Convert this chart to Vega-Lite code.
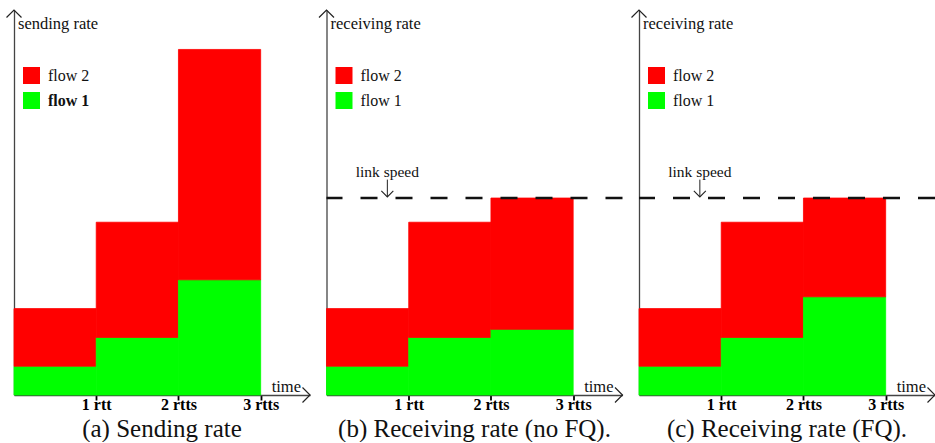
{
  "$schema": "https://vega.github.io/schema/vega-lite/v6.json",
  "padding": {"left": 4, "top": 7, "right": 0, "bottom": 0},
  "autosize": {"type": "pad"},
  "bounds": "flush",
  "spacing": 16.5,
  "config": {"view": {"stroke": null}, "font": "Liberation Serif"},
  "datasets": {
    "rates": [
      {"panel": "a", "flow": "flow 1", "start": 0, "end": 1, "rate": 1},
      {"panel": "a", "flow": "flow 2", "start": 0, "end": 1, "rate": 2},
      {"panel": "a", "flow": "flow 1", "start": 1, "end": 2, "rate": 2},
      {"panel": "a", "flow": "flow 2", "start": 1, "end": 2, "rate": 4},
      {"panel": "a", "flow": "flow 1", "start": 2, "end": 3, "rate": 4},
      {"panel": "a", "flow": "flow 2", "start": 2, "end": 3, "rate": 8},
      {"panel": "b", "flow": "flow 1", "start": 0, "end": 1, "rate": 1},
      {"panel": "b", "flow": "flow 2", "start": 0, "end": 1, "rate": 2},
      {"panel": "b", "flow": "flow 1", "start": 1, "end": 2, "rate": 2},
      {"panel": "b", "flow": "flow 2", "start": 1, "end": 2, "rate": 4},
      {"panel": "b", "flow": "flow 1", "start": 2, "end": 3, "rate": 2.28},
      {"panel": "b", "flow": "flow 2", "start": 2, "end": 3, "rate": 4.56},
      {"panel": "c", "flow": "flow 1", "start": 0, "end": 1, "rate": 1},
      {"panel": "c", "flow": "flow 2", "start": 0, "end": 1, "rate": 2},
      {"panel": "c", "flow": "flow 1", "start": 1, "end": 2, "rate": 2},
      {"panel": "c", "flow": "flow 2", "start": 1, "end": 2, "rate": 4},
      {"panel": "c", "flow": "flow 1", "start": 2, "end": 3, "rate": 3.41},
      {"panel": "c", "flow": "flow 2", "start": 2, "end": 3, "rate": 3.43}
    ]
  },
  "resolve": {
    "scale": {"color": "independent", "stroke": "independent", "x": "independent", "y": "independent"},
    "legend": {"color": "independent"}
  },
  "hconcat": [
    {
      "width": 296, "height": 385,
      "title": {"text": "(a) Sending rate", "orient": "bottom", "anchor": "middle", "fontSize": 25, "fontWeight": "normal", "font": "Liberation Serif", "offset": 5, "color": "#111"},
      "layer": [
        {
          "data": {"name": "rates"},
          "transform": [
            {"filter": "datum.panel == 'a'"},
            {"stack": "rate", "groupby": ["start"], "sort": [{"field": "flow", "order": "ascending"}], "as": ["y0", "y1"]}
          ],
          "mark": {"type": "bar", "strokeWidth": 0.8},
          "encoding": {
            "x": {"field": "start", "type": "quantitative", "scale": {"domain": [0, 3.6], "nice": false, "zero": false},
              "axis": {"values": [1, 2, 3], "labelExpr": "datum.value == 1 ? '1 rtt' : datum.value + ' rtts'", "title": null, "grid": false, "labelFont": "Liberation Serif", "labelFontWeight": "bold", "labelFontSize": 16, "labelColor": "#000", "tickColor": "#000", "tickWidth": 1.8, "tickSize": 5, "domainColor": "#444", "domainWidth": 1.3, "labelPadding": -4, "labelFlush": false, "labelOverlap": false}},
            "x2": {"field": "end"},
            "y": {"field": "y0", "type": "quantitative", "scale": {"domain": [0, 13.37], "nice": false},
              "axis": {"title": null, "labels": false, "ticks": false, "grid": false, "domainColor": "#444", "domainWidth": 1.3, "minExtent": 0}},
            "y2": {"field": "y1"},
            "color": {"field": "flow", "type": "nominal", "scale": {"domain": ["flow 2", "flow 1"], "range": ["#ff0000", "#00ff00"]},
              "legend": {"title": null, "orient": "none", "legendX": 9, "legendY": 57, "symbolType": "square", "symbolSize": 289, "symbolStrokeWidth": 0, "symbolOpacity": 1, "labelFont": "Liberation Serif", "labelFontSize": 16, "labelColor": "#111", "labelOffset": 8, "rowPadding": 8, "padding": 0,
                "encode": {"labels": {"update": {"fontWeight": {"signal": "datum.label === 'flow 1' ? 'bold' : 'normal'"}}}}}},
            "stroke": {"field": "flow", "type": "nominal", "scale": {"domain": ["flow 2", "flow 1"], "range": ["#ff0000", "#00ff00"]}, "legend": null}
          }
        },
        {
          "data": {"values": [{}]},
          "mark": {"type": "point", "shape": "M-1,1L0,0L1,1", "filled": false, "color": "#222", "strokeWidth": 1.2, "size": 225, "opacity": 1},
          "encoding": {"x": {"datum": 0}, "y": {"datum": 13.37}}
        },
        {
          "data": {"values": [{}]},
          "mark": {"type": "point", "shape": "M-1,-1L0,0L-1,1", "filled": false, "color": "#222", "strokeWidth": 1.2, "size": 225, "opacity": 1},
          "encoding": {"x": {"datum": 3.6}, "y": {"datum": 0}}
        },
        {
          "data": {"values": [{}]},
          "mark": {"type": "text", "text": "sending rate", "align": "left", "baseline": "alphabetic", "dx": 4, "dy": 19, "font": "Liberation Serif", "fontSize": 16.5, "color": "#111"},
          "encoding": {"x": {"datum": 0}, "y": {"datum": 13.37}}
        },
        {
          "data": {"values": [{}]},
          "mark": {"type": "text", "text": "time", "align": "right", "baseline": "alphabetic", "dx": -9, "dy": -3, "font": "Liberation Serif", "fontSize": 16.5, "color": "#111"},
          "encoding": {"x": {"datum": 3.6}, "y": {"datum": 0}}
        }
      ]
    },
    {
      "width": 296, "height": 385,
      "title": {"text": "(b) Receiving rate (no FQ).", "orient": "bottom", "anchor": "middle", "fontSize": 25, "fontWeight": "normal", "font": "Liberation Serif", "offset": 5, "color": "#111"},
      "layer": [
        {
          "data": {"name": "rates"},
          "transform": [
            {"filter": "datum.panel == 'b'"},
            {"stack": "rate", "groupby": ["start"], "sort": [{"field": "flow", "order": "ascending"}], "as": ["y0", "y1"]}
          ],
          "mark": {"type": "bar", "strokeWidth": 0.8},
          "encoding": {
            "x": {"field": "start", "type": "quantitative", "scale": {"domain": [0, 3.6], "nice": false, "zero": false},
              "axis": {"values": [1, 2, 3], "labelExpr": "datum.value == 1 ? '1 rtt' : datum.value + ' rtts'", "title": null, "grid": false, "labelFont": "Liberation Serif", "labelFontWeight": "bold", "labelFontSize": 16, "labelColor": "#000", "tickColor": "#000", "tickWidth": 1.8, "tickSize": 5, "domainColor": "#444", "domainWidth": 1.3, "labelPadding": -4, "labelFlush": false, "labelOverlap": false}},
            "x2": {"field": "end"},
            "y": {"field": "y0", "type": "quantitative", "scale": {"domain": [0, 13.37], "nice": false},
              "axis": {"title": null, "labels": false, "ticks": false, "grid": false, "domainColor": "#444", "domainWidth": 1.3, "minExtent": 0}},
            "y2": {"field": "y1"},
            "color": {"field": "flow", "type": "nominal", "scale": {"domain": ["flow 2", "flow 1"], "range": ["#ff0000", "#00ff00"]},
              "legend": {"title": null, "orient": "none", "legendX": 9, "legendY": 57, "symbolType": "square", "symbolSize": 289, "symbolStrokeWidth": 0, "symbolOpacity": 1, "labelFont": "Liberation Serif", "labelFontSize": 16, "labelColor": "#111", "labelOffset": 8, "rowPadding": 8, "padding": 0}},
            "stroke": {"field": "flow", "type": "nominal", "scale": {"domain": ["flow 2", "flow 1"], "range": ["#ff0000", "#00ff00"]}, "legend": null}
          }
        },
        {
          "data": {"values": [{}]},
          "mark": {"type": "rule", "strokeDash": [17, 18], "strokeWidth": 2.5, "color": "#111"},
          "encoding": {"y": {"datum": 6.84}}
        },
        {
          "data": {"values": [{}]},
          "mark": {"type": "text", "text": "link speed", "align": "center", "baseline": "alphabetic", "font": "Liberation Serif", "fontSize": 15.5, "color": "#111"},
          "encoding": {"x": {"datum": 0.74}, "y": {"datum": 7.57}}
        },
        {
          "data": {"values": [{}]},
          "mark": {"type": "rule", "strokeWidth": 1, "color": "#222"},
          "encoding": {"x": {"datum": 0.74}, "y": {"datum": 7.48}, "y2": {"datum": 6.88}}
        },
        {
          "data": {"values": [{}]},
          "mark": {"type": "point", "shape": "M-1,-1L0,0L1,-1", "filled": false, "color": "#222", "strokeWidth": 1.1, "size": 144, "opacity": 1},
          "encoding": {"x": {"datum": 0.74}, "y": {"datum": 6.88}}
        },
        {
          "data": {"values": [{}]},
          "mark": {"type": "point", "shape": "M-1,1L0,0L1,1", "filled": false, "color": "#222", "strokeWidth": 1.2, "size": 225, "opacity": 1},
          "encoding": {"x": {"datum": 0}, "y": {"datum": 13.37}}
        },
        {
          "data": {"values": [{}]},
          "mark": {"type": "point", "shape": "M-1,-1L0,0L-1,1", "filled": false, "color": "#222", "strokeWidth": 1.2, "size": 225, "opacity": 1},
          "encoding": {"x": {"datum": 3.6}, "y": {"datum": 0}}
        },
        {
          "data": {"values": [{}]},
          "mark": {"type": "text", "text": "receiving rate", "align": "left", "baseline": "alphabetic", "dx": 4, "dy": 19, "font": "Liberation Serif", "fontSize": 16.5, "color": "#111"},
          "encoding": {"x": {"datum": 0}, "y": {"datum": 13.37}}
        },
        {
          "data": {"values": [{}]},
          "mark": {"type": "text", "text": "time", "align": "right", "baseline": "alphabetic", "dx": -9, "dy": -3, "font": "Liberation Serif", "fontSize": 16.5, "color": "#111"},
          "encoding": {"x": {"datum": 3.6}, "y": {"datum": 0}}
        }
      ]
    },
    {
      "width": 296, "height": 385,
      "title": {"text": "(c) Receiving rate (FQ).", "orient": "bottom", "anchor": "middle", "fontSize": 25, "fontWeight": "normal", "font": "Liberation Serif", "offset": 5, "color": "#111"},
      "layer": [
        {
          "data": {"name": "rates"},
          "transform": [
            {"filter": "datum.panel == 'c'"},
            {"stack": "rate", "groupby": ["start"], "sort": [{"field": "flow", "order": "ascending"}], "as": ["y0", "y1"]}
          ],
          "mark": {"type": "bar", "strokeWidth": 0.8},
          "encoding": {
            "x": {"field": "start", "type": "quantitative", "scale": {"domain": [0, 3.6], "nice": false, "zero": false},
              "axis": {"values": [1, 2, 3], "labelExpr": "datum.value == 1 ? '1 rtt' : datum.value + ' rtts'", "title": null, "grid": false, "labelFont": "Liberation Serif", "labelFontWeight": "bold", "labelFontSize": 16, "labelColor": "#000", "tickColor": "#000", "tickWidth": 1.8, "tickSize": 5, "domainColor": "#444", "domainWidth": 1.3, "labelPadding": -4, "labelFlush": false, "labelOverlap": false}},
            "x2": {"field": "end"},
            "y": {"field": "y0", "type": "quantitative", "scale": {"domain": [0, 13.37], "nice": false},
              "axis": {"title": null, "labels": false, "ticks": false, "grid": false, "domainColor": "#444", "domainWidth": 1.3, "minExtent": 0}},
            "y2": {"field": "y1"},
            "color": {"field": "flow", "type": "nominal", "scale": {"domain": ["flow 2", "flow 1"], "range": ["#ff0000", "#00ff00"]},
              "legend": {"title": null, "orient": "none", "legendX": 9, "legendY": 57, "symbolType": "square", "symbolSize": 289, "symbolStrokeWidth": 0, "symbolOpacity": 1, "labelFont": "Liberation Serif", "labelFontSize": 16, "labelColor": "#111", "labelOffset": 8, "rowPadding": 8, "padding": 0}},
            "stroke": {"field": "flow", "type": "nominal", "scale": {"domain": ["flow 2", "flow 1"], "range": ["#ff0000", "#00ff00"]}, "legend": null}
          }
        },
        {
          "data": {"values": [{}]},
          "mark": {"type": "rule", "strokeDash": [17, 18], "strokeWidth": 2.5, "color": "#111"},
          "encoding": {"y": {"datum": 6.84}}
        },
        {
          "data": {"values": [{}]},
          "mark": {"type": "text", "text": "link speed", "align": "center", "baseline": "alphabetic", "font": "Liberation Serif", "fontSize": 15.5, "color": "#111"},
          "encoding": {"x": {"datum": 0.74}, "y": {"datum": 7.57}}
        },
        {
          "data": {"values": [{}]},
          "mark": {"type": "rule", "strokeWidth": 1, "color": "#222"},
          "encoding": {"x": {"datum": 0.74}, "y": {"datum": 7.48}, "y2": {"datum": 6.88}}
        },
        {
          "data": {"values": [{}]},
          "mark": {"type": "point", "shape": "M-1,-1L0,0L1,-1", "filled": false, "color": "#222", "strokeWidth": 1.1, "size": 144, "opacity": 1},
          "encoding": {"x": {"datum": 0.74}, "y": {"datum": 6.88}}
        },
        {
          "data": {"values": [{}]},
          "mark": {"type": "point", "shape": "M-1,1L0,0L1,1", "filled": false, "color": "#222", "strokeWidth": 1.2, "size": 225, "opacity": 1},
          "encoding": {"x": {"datum": 0}, "y": {"datum": 13.37}}
        },
        {
          "data": {"values": [{}]},
          "mark": {"type": "point", "shape": "M-1,-1L0,0L-1,1", "filled": false, "color": "#222", "strokeWidth": 1.2, "size": 225, "opacity": 1},
          "encoding": {"x": {"datum": 3.6}, "y": {"datum": 0}}
        },
        {
          "data": {"values": [{}]},
          "mark": {"type": "text", "text": "receiving rate", "align": "left", "baseline": "alphabetic", "dx": 4, "dy": 19, "font": "Liberation Serif", "fontSize": 16.5, "color": "#111"},
          "encoding": {"x": {"datum": 0}, "y": {"datum": 13.37}}
        },
        {
          "data": {"values": [{}]},
          "mark": {"type": "text", "text": "time", "align": "right", "baseline": "alphabetic", "dx": -9, "dy": -3, "font": "Liberation Serif", "fontSize": 16.5, "color": "#111"},
          "encoding": {"x": {"datum": 3.6}, "y": {"datum": 0}}
        }
      ]
    }
  ]
}
